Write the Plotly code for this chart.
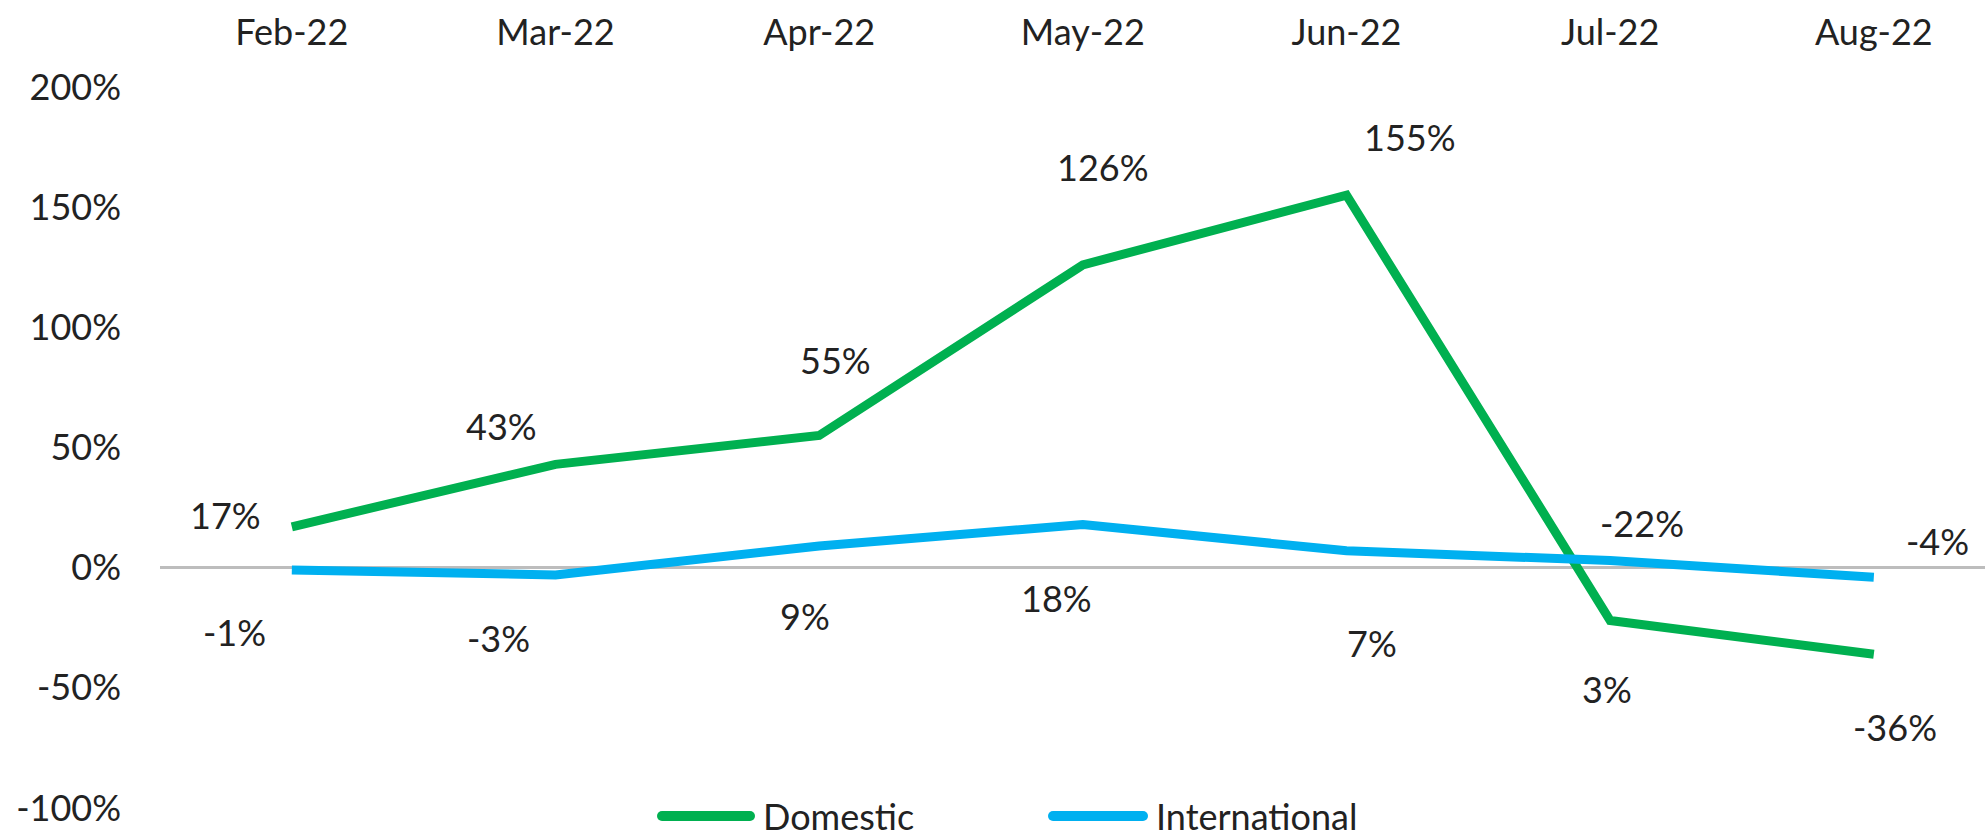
import plotly.graph_objects as go

# ---- data ----
months = ["Feb-22", "Mar-22", "Apr-22", "May-22", "Jun-22", "Jul-22", "Aug-22"]
domestic = [17, 43, 55, 126, 155, -22, -36]
international = [-1, -3, 9, 18, 7, 3, -4]
y_ticks = [-100, -50, 0, 50, 100, 150, 200]
series_names = ["Domestic", "International"]

# ---- styling ----
FONT = "Lato"
TXT = "#222222"
GREEN = "#00B050"
BLUE = "#00B0F0"
FS = 36

# label offsets in px (xshift, yshift) per point
dom_off = [(-66, 12), (-54, 38), (16, 75), (20, 98), (63, 58), (32, 98), (21, -73)]
int_off = [(-57, -62), (-57, -63), (-14, -70), (-26, -74), (25, -92), (-3, -129), (64, 36)]

fig = go.Figure()
fig.add_trace(go.Scatter(x=months, y=domestic, mode="lines", name=series_names[0],
                         line=dict(color=GREEN, width=9), showlegend=False))
fig.add_trace(go.Scatter(x=months, y=international, mode="lines", name=series_names[1],
                         line=dict(color=BLUE, width=9), showlegend=False))

ann = []
for m, v, (dx, dy) in zip(months, domestic, dom_off):
    ann.append(dict(x=m, y=v, text=f"{v}%", showarrow=False, xshift=dx, yshift=dy,
                    font=dict(family=FONT, size=FS, color=TXT)))
for m, v, (dx, dy) in zip(months, international, int_off):
    ann.append(dict(x=m, y=v, text=f"{v}%", showarrow=False, xshift=dx, yshift=dy,
                    font=dict(family=FONT, size=FS, color=TXT)))

# custom legend (long line samples with round ends)
W, H = 1985, 839
L, R, T, B = 160, 0, 87, 31
pw = W - L - R
ph = H - T - B
def px(xp):
    return (xp - L) / pw
ly = -(816 - (H - B)) / ph
shapes = []
LW = 10
for name, col, x0, x1, xt in [(series_names[0], GREEN, 662, 750, 761),
                              (series_names[1], BLUE, 1053, 1143, 1154)]:
    shapes.append(dict(type="line", xref="paper", yref="paper", x0=px(x0), x1=px(x1),
                       y0=ly, y1=ly, line=dict(color=col, width=LW)))
    for xe in (x0, x1):
        shapes.append(dict(type="circle", xref="paper", yref="paper",
                           xsizemode="pixel", ysizemode="pixel",
                           xanchor=px(xe), yanchor=ly,
                           x0=-LW / 2, x1=LW / 2, y0=-LW / 2, y1=LW / 2,
                           fillcolor=col, line=dict(width=0)))
    ann.append(dict(xref="paper", yref="paper", x=px(xt), y=ly, xanchor="left",
                    yanchor="middle", text=name, showarrow=False,
                    font=dict(family=FONT, size=FS, color=TXT)))

n = len(months)
x_right = -0.5 + pw / ((1875 - 293) / (n - 1))

fig.update_layout(
    width=W, height=H,
    margin=dict(l=L, r=R, t=T, b=B, autoexpand=False),
    paper_bgcolor="white", plot_bgcolor="white",
    font=dict(family=FONT, size=FS, color=TXT),
    annotations=ann, shapes=shapes,
    xaxis=dict(side="top", type="category", range=[-0.5, x_right], showgrid=False,
               zeroline=False, showline=False, ticks="", ticklabelstandoff=34,
               tickfont=dict(family=FONT, size=FS, color=TXT)),
    yaxis=dict(range=[-100, 200], tickvals=y_ticks, ticktext=[f"{t}%" for t in y_ticks],
               showgrid=False, zeroline=True, zerolinecolor="#BDBDBD", zerolinewidth=3,
               showline=False, ticks="", ticklabelstandoff=38,
               tickfont=dict(family=FONT, size=FS, color=TXT)),
)

fig.write_html("out.html", config={"displayModeBar": False},
               post_script="document.body.style.margin='0';document.body.style.overflow='hidden';")
